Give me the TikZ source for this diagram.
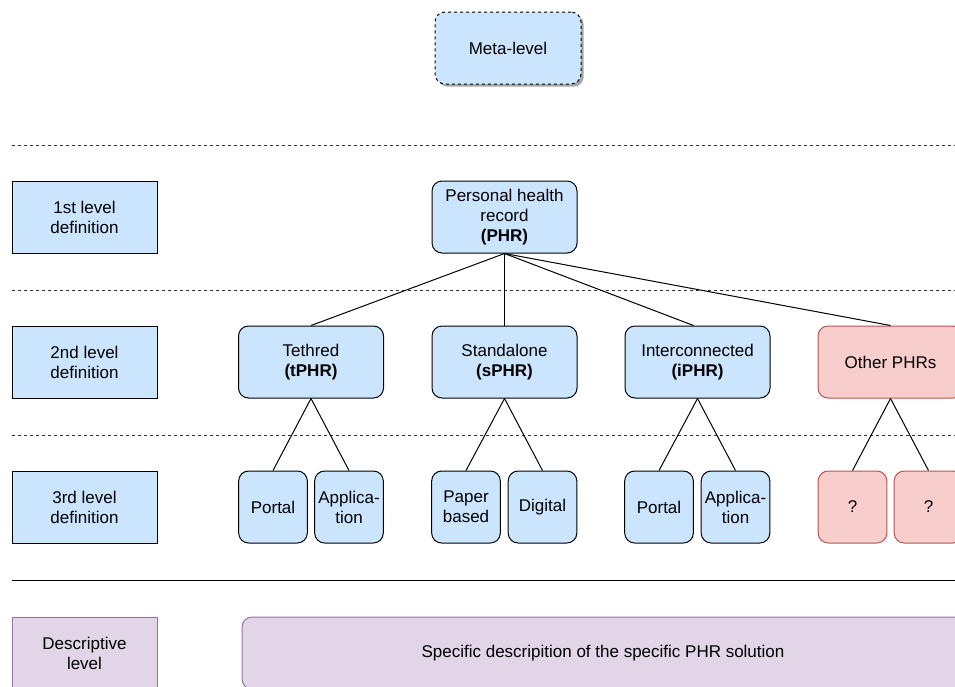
\documentclass[tikz,border=0pt]{standalone}
\usepackage{fontspec}
\setmainfont{Liberation Sans}
\usetikzlibrary{shadows}
\definecolor{bfill}{HTML}{CCE5FF}
\definecolor{rfill}{HTML}{F8CECC}
\definecolor{rline}{HTML}{B85450}
\definecolor{pfill}{HTML}{E1D5E7}
\definecolor{pline}{HTML}{9673A6}
\tikzset{
  base/.style={draw, line width=0.75pt, align=center, inner sep=0pt,
    font=\fontsize{12.75}{15}\selectfont, minimum height=54pt},
  levelbox/.style={base, fill=bfill, minimum width=108.75pt},
  bigbox/.style={base, fill=bfill, rounded corners=7.5pt, minimum width=108.75pt},
  smallbox/.style={base, fill=bfill, rounded corners=7.5pt, minimum width=51.5pt},
  redbig/.style={bigbox, fill=rfill, draw=rline},
  redsmall/.style={smallbox, fill=rfill, draw=rline},
  purplebox/.style={base, fill=pfill, draw=pline},
  sep/.style={line width=0.75pt, draw=black!80, dash pattern=on 2.25pt off 2.25pt},
  link/.style={line width=0.75pt}
}
\begin{document}
\begin{tikzpicture}[x=0.75pt, y=-0.75pt]
\useasboundingbox (0,0) rectangle (955,686);
\clip (0,0) rectangle (955,686);
% meta level
\node[bigbox, minimum width=109.5pt, dashed, dash pattern=on 2.25pt off 2.25pt,
  drop shadow={shadow xshift=2pt, shadow yshift=-2pt, fill=black!35, opacity=1}] (meta) at (508,48) {Meta-level};
% separators
\draw[sep] (12,145) -- (955,145);
\draw[sep] (12,290) -- (955,290);
\draw[sep] (12,435) -- (955,435);
\draw[line width=0.75pt] (12,580) -- (955,580);
% level labels
\node[levelbox] (l1) at (84.5,217) {1st level\\definition};
\node[levelbox] (l2) at (84.5,362) {2nd level\\definition};
\node[levelbox] (l3) at (84.5,507) {3rd level\\definition};
\node[purplebox, minimum width=108.75pt] (ld) at (84.5,653) {Descriptive\\level};
% level 1
\node[bigbox] (phr) at (504.5,217) {Personal health\\record\\\textbf{(PHR)}};
% level 2
\node[bigbox] (teth) at (311,362) {Tethred\\\textbf{(tPHR)}};
\node[bigbox] (stand) at (504.5,362) {Standalone\\\textbf{(sPHR)}};
\node[bigbox] (inter) at (697.5,362) {Interconnected\\\textbf{(iPHR)}};
\node[redbig] (other) at (890.5,362) {Other PHRs};
% level 3
\node[smallbox] (p1) at (273,507) {Portal};
\node[smallbox] (a1) at (349,507) {Applica-\\tion};
\node[smallbox] (pap) at (466,507) {Paper\\based};
\node[smallbox] (dig) at (542.5,507) {Digital};
\node[smallbox] (p2) at (659,507) {Portal};
\node[smallbox] (a2) at (735.5,507) {Applica-\\tion};
\node[redsmall] (q1) at (852.5,507) {?};
\node[redsmall] (q2) at (928.5,507) {?};
% descriptive
\node[purplebox, rounded corners=7.5pt, minimum width=541.5pt] (spec) at (603,653) {Specific descripition of the specific PHR solution};
% connectors
\draw[link] (phr.south) -- (teth.north);
\draw[link] (phr.south) -- (stand.north);
\draw[link] (phr.south) -- ([xshift=-3pt]inter.north);
\draw[link] (phr.south) -- (other.north);
\draw[link] (teth.south) -- (p1.north);
\draw[link] (teth.south) -- (a1.north);
\draw[link] (stand.south) -- (pap.north);
\draw[link] (stand.south) -- (dig.north);
\draw[link] (inter.south) -- (p2.north);
\draw[link] (inter.south) -- (a2.north);
\draw[link] (other.south) -- (q1.north);
\draw[link] (other.south) -- (q2.north);
\end{tikzpicture}
\end{document}
